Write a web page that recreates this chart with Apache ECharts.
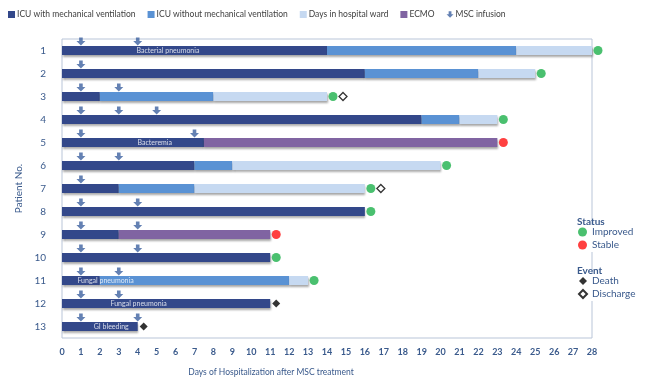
<!DOCTYPE html>
<html>
<head>
<meta charset="utf-8">
<script src="https://cdn.jsdelivr.net/npm/echarts@6/dist/echarts.min.js"></script>
<style>html,body{margin:0;padding:0;background:#fff}#c{width:652px;height:388px}</style>
</head>
<body>
<div id="c"></div>
<script>
var patients = ['1','2','3','4','5','6','7','8','9','10','11','12','13'];
var mechVent  = [14, 16, 2, 19, 7.5, 7, 3, 16, 3, 11, 2, 11, 4];
var icuNoVent = [10, 6, 6, 2, 0, 2, 4, 0, 0, 0, 10, 0, 0];
var wardDays  = [4, 3, 6, 2, 0, 11, 9, 0, 0, 0, 1, 0, 0];
var ecmoDays  = [0, 0, 0, 0, 15.5, 0, 0, 0, 8, 0, 0, 0, 0];
var mscDays   = [[1,4],[1],[1,3],[1,3,5],[1,7],[1,3],[1],[1,4],[1,4],[1,4],[1,3],[1,3],[1,4]];
var statusList = ['Improved','Improved','Improved','Improved','Stable','Improved','Improved','Improved','Stable','Improved','Improved',null,null];
var eventList  = [null,null,'Discharge',null,null,null,'Discharge',null,null,null,null,'Death','Death'];
var complications = [
  ['1','Bacterial pneumonia',5.6],
  ['5','Bacteremia',4.9],
  ['11','Fungal pneumonia',2.3],
  ['12','Fungal pneumonia',4.05],
  ['13','GI bleeding',2.6]
];
var xTicks = {min:0, max:28, interval:1};
var topLegendNames = ['ICU with mechanical ventilation','ICU without mechanical ventilation','Days in hospital ward','ECMO','MSC infusion'];

var FONT = 'Lato, "Liberation Sans", sans-serif';
var TXT = '#3A5A8C';
var arrowPath = 'path://M3,0 L7,0 L7,4 L10,4 L5,9 L0,4 L3,4 Z';

var totals = patients.map(function(p,i){return mechVent[i]+icuNoVent[i]+wardDays[i]+ecmoDays[i];});
var mscData = [];
mscDays.forEach(function(arr,i){arr.forEach(function(d){mscData.push([d, patients[i]]);});});
function statusData(s){
  var out=[];
  statusList.forEach(function(v,i){ if(v===s) out.push({value:[totals[i],patients[i]], symbolOffset:[6,0]}); });
  return out;
}
function eventData(s){
  var out=[];
  eventList.forEach(function(v,i){ if(v===s) out.push({value:[totals[i],patients[i]], symbolOffset:[statusList[i]?16:6,0]}); });
  return out;
}
var shadow = {shadowColor:'rgba(0,0,0,0.35)', shadowBlur:2, shadowOffsetY:1.5, shadowOffsetX:0.5};
function barSeries(name, data, color){
  return {name:name, type:'bar', stack:'days', data:data, barWidth:9,
    itemStyle: Object.assign({color:color}, shadow), silent:true, animation:false};
}

var chart = echarts.init(document.getElementById('c'), null, {renderer:'canvas'});
chart.setOption({
  animation:false,
  textStyle:{fontFamily:FONT},
  grid:{left:62, right:60, top:39, bottom:50, show:true, borderColor:'#B9C5D8', borderWidth:1, backgroundColor:'transparent'},
  title:[
    {text:'Status', left:572, top:212, textStyle:{fontSize:10, fontWeight:'bold', color:TXT, fontFamily:FONT}},
    {text:'Event', left:572, top:261, textStyle:{fontSize:10, fontWeight:'bold', color:TXT, fontFamily:FONT}}
  ],
  legend:[
    {top:10, left:8, itemGap:12, itemWidth:7, itemHeight:7, padding:0,
     textStyle:{fontSize:8.5, color:'#404040', fontFamily:FONT, padding:[0,0,0,-3]},
     data:topLegendNames.map(function(n,i){return i<4 ? {name:n, icon:'rect'} : {name:n};})},
    {orient:'vertical', left:576, top:225, itemGap:3, itemWidth:9, itemHeight:9, backgroundColor:'#fff', padding:[2,4,2,2],
     textStyle:{fontSize:10, color:TXT, fontFamily:FONT}, data:['Improved','Stable']},
    {orient:'vertical', left:576, top:274, itemGap:3, itemWidth:8, itemHeight:8, backgroundColor:'#fff', padding:[2,4,2,2],
     textStyle:{fontSize:10, color:TXT, fontFamily:FONT}, data:['Death','Discharge']}
  ],
  xAxis:{type:'value', min:xTicks.min, max:xTicks.max, interval:xTicks.interval,
    axisLine:{show:false}, axisTick:{show:false}, splitLine:{show:false},
    axisLabel:{fontSize:9, color:TXT, margin:10, fontFamily:FONT, fontWeight:'bold'}},
  yAxis:{type:'category', data:patients, inverse:true,
    axisLine:{show:false}, axisTick:{show:false},
    axisLabel:{fontSize:10, color:TXT, margin:16, fontFamily:FONT},
    name:'Patient No.', nameLocation:'middle', nameGap:32, nameRotate:90,
    nameTextStyle:{fontSize:10, color:TXT, fontFamily:FONT}},
  graphic:[{type:'text', x:271, y:368, style:{text:'Days of Hospitalization after MSC treatment', fill:TXT, font:'8.5px '+FONT, textAlign:'center'}}],
  series:[
    barSeries('ICU with mechanical ventilation', mechVent, '#33488A'),
    barSeries('ICU without mechanical ventilation', icuNoVent, '#5A92D4'),
    barSeries('Days in hospital ward', wardDays, '#C6D9F1'),
    barSeries('ECMO', ecmoDays, '#8064A2'),
    {name:'MSC infusion', type:'scatter', data:mscData, symbol:arrowPath, symbolSize:[9,8], symbolOffset:[0,-9],
      itemStyle:{color:'#3D62A0'}, z:5},
    {name:'Improved', type:'scatter', data:statusData('Improved'), symbol:'circle', symbolSize:9, itemStyle:{color:'#1DB04B'}, z:5},
    {name:'Stable', type:'scatter', data:statusData('Stable'), symbol:'circle', symbolSize:9, itemStyle:{color:'#FF1010'}, z:5},
    {name:'Death', type:'scatter', data:eventData('Death'), symbol:'diamond', symbolSize:8, itemStyle:{color:'#000'}, z:5},
    {name:'Discharge', type:'scatter', data:eventData('Discharge'), symbol:'diamond', symbolSize:8,
      itemStyle:{color:'#fff', borderColor:'#000', borderWidth:1.3}, z:5},
    {name:'labels', type:'scatter', symbolSize:0, z:6,
      data:complications.map(function(c){return {value:[c[2], c[0]], text:c[1]};}),
      label:{show:true, position:'inside', color:'#fff', fontSize:7, fontFamily:FONT,
        formatter:function(p){return p.data.text;}}}
  ]
});
</script>
</body>
</html>
